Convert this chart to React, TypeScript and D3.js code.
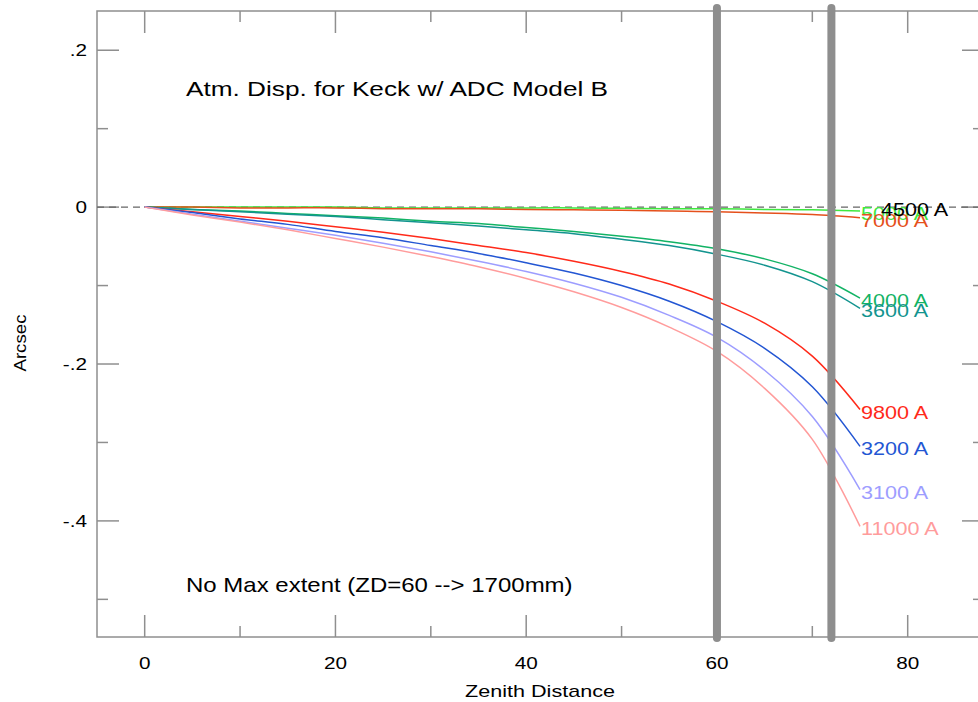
import React from 'react'
import * as d3 from 'd3'

// zenith distance samples (deg)
const zd = [0, 5, 10, 15, 20, 25, 30, 35, 40, 45, 50, 55, 60, 65, 70, 75]

// residual dispersion (arcsec) relative to 4500 A
const w5000 = [0, 0, 0, 0, 0, -0.001, -0.001, -0.001, -0.001, -0.001, -0.0015, -0.002, -0.002, -0.003, -0.0035, -0.005]
const w4500 = [0, 0, 0, 0, 0, 0, 0, 0, 0, 0, 0, 0, 0, 0, 0, 0]
const w7000 = [0, 0, -0.001, -0.001, -0.001, -0.002, -0.002, -0.002, -0.003, -0.0035, -0.004, -0.005, -0.006, -0.0075, -0.0095, -0.0135]
const w4000 = [0, -0.003, -0.005, -0.008, -0.011, -0.014, -0.018, -0.021, -0.026, -0.031, -0.037, -0.044, -0.053, -0.066, -0.085, -0.116]
const w3600 = [0, -0.003, -0.006, -0.009, -0.012, -0.016, -0.020, -0.024, -0.029, -0.034, -0.041, -0.049, -0.060, -0.074, -0.095, -0.129]
const w9800 = [0, -0.006, -0.012, -0.018, -0.025, -0.032, -0.040, -0.049, -0.058, -0.069, -0.082, -0.098, -0.120, -0.148, -0.190, -0.258]
const w3200 = [0, -0.007, -0.015, -0.022, -0.031, -0.039, -0.049, -0.059, -0.071, -0.084, -0.100, -0.120, -0.146, -0.180, -0.229, -0.305]
const w3100 = [0, -0.009, -0.018, -0.027, -0.036, -0.046, -0.057, -0.069, -0.082, -0.097, -0.115, -0.138, -0.166, -0.208, -0.267, -0.360]
const w11000 = [0, -0.010, -0.019, -0.029, -0.040, -0.051, -0.063, -0.076, -0.091, -0.108, -0.128, -0.153, -0.184, -0.231, -0.296, -0.407]

const series = [
  { name: '5000 A', values: w5000, color: '#3fe83f', dx: 0 },
  { name: '7000 A', values: w7000, color: '#e5501c', dx: 0 },
  { name: '4500 A', values: w4500, color: '#000000', dx: 20 },
  { name: '4000 A', values: w4000, color: '#12b365', dx: 0 },
  { name: '3600 A', values: w3600, color: '#13948f', dx: 0 },
  { name: '9800 A', values: w9800, color: '#ff2a1a', dx: 0 },
  { name: '3200 A', values: w3200, color: '#2356d3', dx: 0 },
  { name: '3100 A', values: w3100, color: '#9d9dff', dx: 0 },
  { name: '11000 A', values: w11000, color: '#ff9c9c', dx: 0 },
]

const xMajor = [0, 20, 40, 60, 80]
const xMinor = [10, 30, 50, 70]
const yMajor = [-0.4, -0.2, 0, 0.2]
const yMinor = [-0.5, -0.3, -0.1, 0.1]
const yLabels = ['-.4', '-.2', '0', '.2']
const markers = [60, 72]

const W = 978
const H = 702
const left = 97, right = 984, top = 11, bottom = 637
const font = 'Liberation Sans, Arial, Helvetica, sans-serif'

// text stretched horizontally like the original raster
function T({ x, y, size, sx = 1.22, anchor = 'start', fill = '#000', children }: any) {
  return (
    <text transform={`translate(${x} ${y}) scale(${sx} 1)`} fontSize={size} textAnchor={anchor} fill={fill}>
      {children}
    </text>
  )
}

export default function App() {
  const x = d3.scaleLinear().domain([-5, 88]).range([left, right])
  const y = d3.scaleLinear().domain([-0.548, 0.25]).range([bottom, top])
  const line = d3.line<number>()
    .x((_, i) => x(zd[i]))
    .y(d => y(d))
    .curve(d3.curveCatmullRom.alpha(0.5))
  const axisColor = '#8f8f8f'

  return (
    <svg width={W} height={H} style={{ position: 'absolute', left: 0, top: 0, background: '#fff' }}
      fontFamily={font}>
      {/* frame */}
      <rect x={left} y={top} width={right - left} height={bottom - top} fill="none" stroke={axisColor} strokeWidth={1.5} />

      {/* x ticks bottom + top */}
      {xMajor.map(v => (
        <g key={'xM' + v}>
          <line x1={x(v)} x2={x(v)} y1={bottom} y2={bottom - 22} stroke={axisColor} strokeWidth={1.5} />
          <line x1={x(v)} x2={x(v)} y1={top} y2={top + 22} stroke={axisColor} strokeWidth={1.5} />
          <T x={x(v)} y={669} size={17} anchor="middle">{v}</T>
        </g>
      ))}
      {xMinor.map(v => (
        <g key={'xm' + v}>
          <line x1={x(v)} x2={x(v)} y1={bottom} y2={bottom - 11} stroke={axisColor} strokeWidth={1.5} />
          <line x1={x(v)} x2={x(v)} y1={top} y2={top + 11} stroke={axisColor} strokeWidth={1.5} />
        </g>
      ))}

      {/* y ticks left + right */}
      {yMajor.map((v, i) => (
        <g key={'yM' + v}>
          <line x1={left} x2={left + 22} y1={y(v)} y2={y(v)} stroke={axisColor} strokeWidth={1.5} />
          <line x1={right} x2={right - 22} y1={y(v)} y2={y(v)} stroke={axisColor} strokeWidth={1.5} />
          <T x={87} y={y(v) + 6} size={17} anchor="end">{yLabels[i]}</T>
        </g>
      ))}
      {yMinor.map(v => (
        <g key={'ym' + v}>
          <line x1={left} x2={left + 11} y1={y(v)} y2={y(v)} stroke={axisColor} strokeWidth={1.5} />
          <line x1={right} x2={right - 11} y1={y(v)} y2={y(v)} stroke={axisColor} strokeWidth={1.5} />
        </g>
      ))}

      {/* zero reference */}
      <line x1={left} x2={right} y1={y(0)} y2={y(0)} stroke="#666" strokeWidth={1.2} strokeDasharray="7,5" />

      {/* curves */}
      {series.filter(s => s.name !== '4500 A').map(s => (
        <path key={s.name} d={line(s.values) || ''} fill="none" stroke={s.color} strokeWidth={1.5} />
      ))}

      {/* zenith markers */}
      {markers.map(m => (
        <line key={'mk' + m} x1={x(m)} x2={x(m)} y1={top - 3} y2={bottom + 1} stroke="#8e8e8e" strokeWidth={8} strokeLinecap="round" />
      ))}

      {/* labels */}
      {series.map(s => (
        <T key={'lb' + s.name} x={x(75) + 1 + s.dx} y={y(s.values[s.values.length - 1]) + 9}
          size={18} sx={1.2} fill={s.color}>{s.name}</T>
      ))}

      <T x={186} y={96} size={20} sx={1.31}>Atm. Disp. for Keck w/ ADC Model B</T>
      <T x={186} y={592} size={20} sx={1.2}>No Max extent (ZD=60 --&gt; 1700mm)</T>
      <T x={540} y={697} size={17} sx={1.27} anchor="middle">Zenith Distance</T>
      <text transform={`translate(26 343) rotate(-90) scale(1.1 1)`} textAnchor="middle" fontSize={17}>Arcsec</text>
    </svg>
  )
}
